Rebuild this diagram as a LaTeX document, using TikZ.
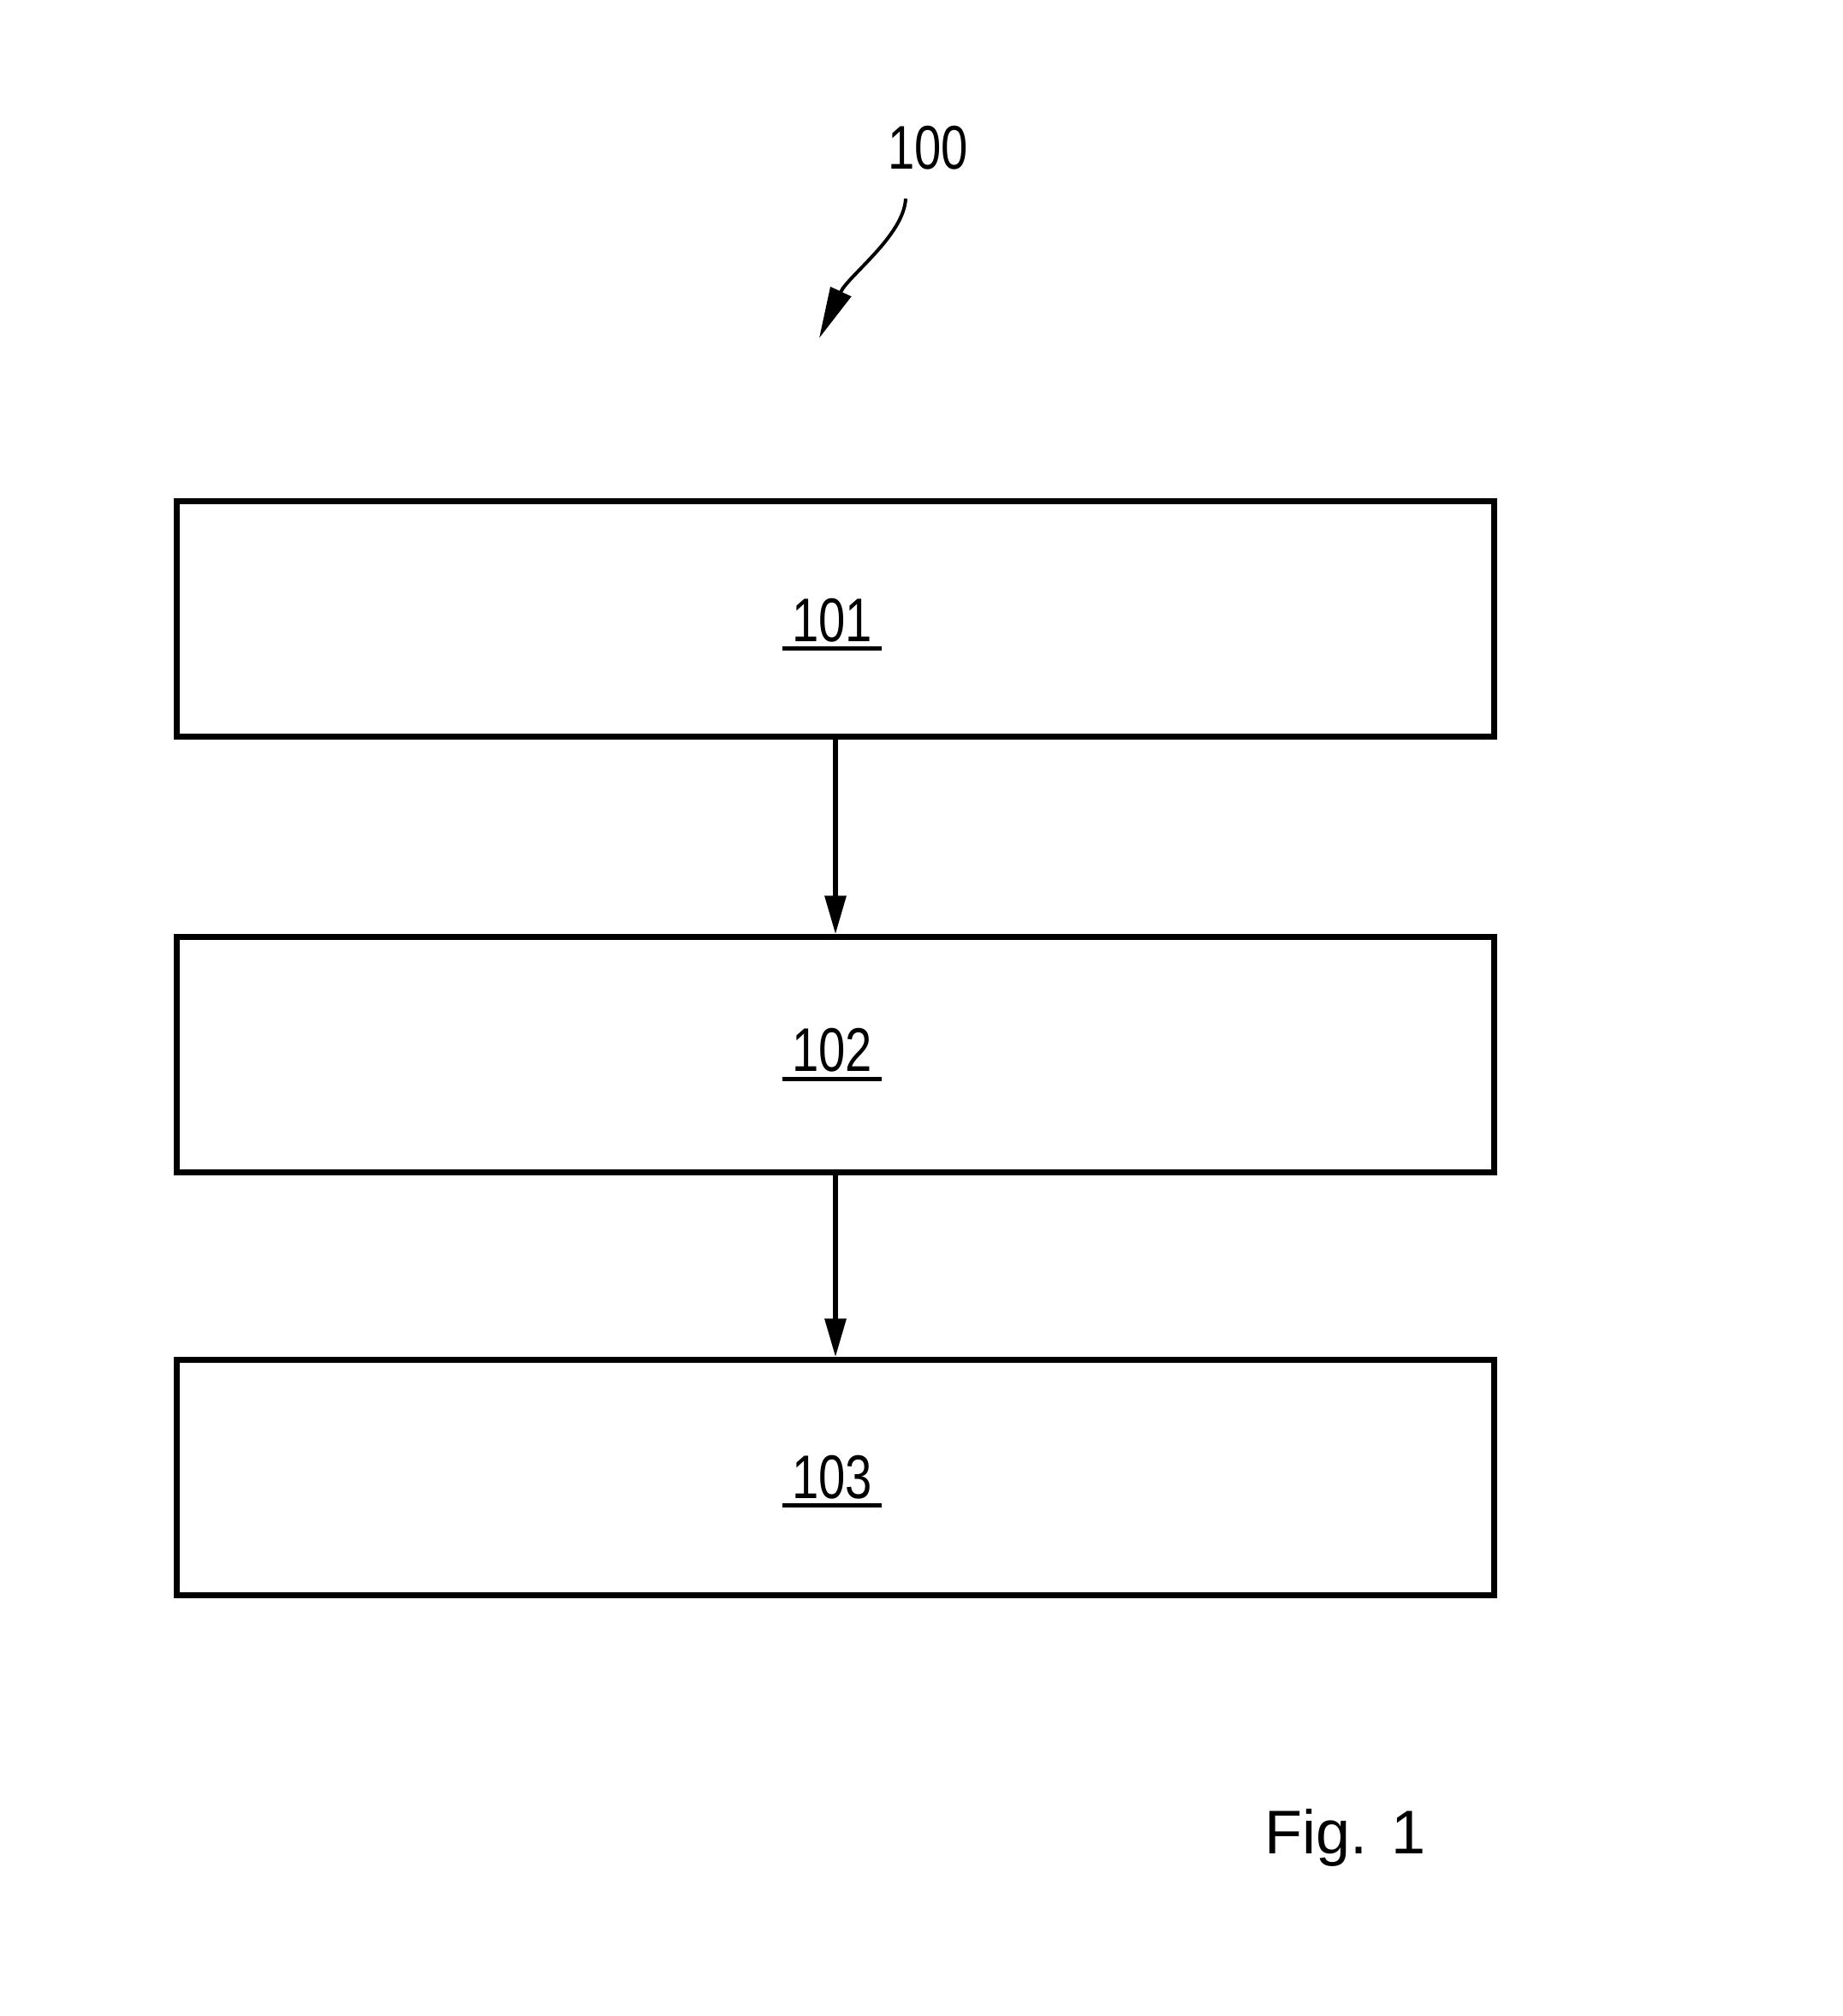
\documentclass[tikz,border=0pt]{standalone}
\usepackage{fontspec}
\setmainfont{Liberation Sans}
\usetikzlibrary{arrows.meta}
\tikzset{
  stepbox/.style={draw=black, line width=0.07cm, minimum width=15.39cm, minimum height=2.75cm, inner sep=0pt},
  reflabel/.style={font=\fontsize{20.5}{24}\selectfont, inner xsep=0.1cm, inner ysep=0pt, anchor=base},
  uline/.style={line width=0.05cm},
  flow/.style={line width=0.06cm, -{Triangle[length=0.45cm,width=0.24cm]}},
  lead/.style={line width=0.04cm, -{Triangle[length=0.6cm,width=0.26cm]}}
}
\newcommand{\cond}[1]{\scalebox{0.78}[1]{#1}}
\begin{document}
\begin{tikzpicture}
\useasboundingbox (0,0) rectangle (21.52,23.55);
\fill[white] (0,0) rectangle (21.52,23.55);
% boxes
\node[stepbox] (b1) at (9.755,16.315) {};
\node[stepbox] (b2) at (9.755,11.225) {};
\node[stepbox] (b3) at (9.755,6.285) {};
% labels
\node[reflabel] (l1) at (9.72,16.05) {\cond{101}};
\node[reflabel] (l2) at (9.72,11.03) {\cond{102}};
\node[reflabel] (l3) at (9.72,6.04) {\cond{103}};
\draw[uline] ([yshift=-0.08cm]l1.base west) -- ([yshift=-0.08cm]l1.base east);
\draw[uline] ([yshift=-0.09cm]l2.base west) -- ([yshift=-0.09cm]l2.base east);
\draw[uline] ([yshift=-0.08cm]l3.base west) -- ([yshift=-0.08cm]l3.base east);
% connectors
\draw[flow] (b1.south -| 9.76,0) -- (b2.north -| 9.76,0);
\draw[flow] (b2.south -| 9.76,0) -- (b3.north -| 9.76,0);
% reference numeral 100 with lead line
\node[font=\fontsize{20.5}{24}\selectfont, inner sep=0pt, anchor=base] (n100) at (10.84,21.57) {\cond{100}};
\coordinate (leadstart) at (10.58,21.23);
\coordinate (leadend) at (9.57,19.60);
\draw[lead] (leadstart) .. controls (10.56,20.80) and (9.91,20.33) .. (leadend);
% figure label
\node[font=\fontsize{20.5}{24}\selectfont, inner sep=0pt, anchor=base west] (fig) at (14.77,1.89) {Fig.\hspace{0.28cm}1};
\end{tikzpicture}
\end{document}
